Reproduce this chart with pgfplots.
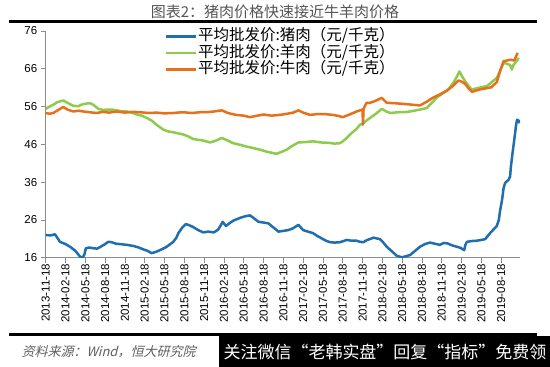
\documentclass[border=0pt]{standalone}
\usepackage{pgfplots}
\pgfplotsset{compat=1.18}
\usepackage{fontspec}
\setmainfont{Liberation Sans}
\newfontfamily\cjk{Noto Sans CJK SC}
\newfontfamily\cjkit[FakeSlant=0.25]{Noto Sans CJK SC}
\definecolor{pork}{HTML}{1F6EB0}
\definecolor{mutton}{HTML}{8DCB4C}
\definecolor{beef}{HTML}{E8701A}
\definecolor{titlegray}{HTML}{555555}
\definecolor{srcgray}{HTML}{606060}
\definecolor{axgray}{HTML}{8C8C8C}
\begin{document}
\begin{tikzpicture}[x=1pt,y=1pt]
\useasboundingbox (0,0) rectangle (550,367);
\fill[white] (0,0) rectangle (550,367);
\node[font=\cjk\fontsize{15}{15}\selectfont, text=titlegray] at (275,355) {图表2：猪肉价格快速接近牛羊肉价格};
\draw[line width=3pt] (9,345) -- (537,345);
\draw[line width=3pt] (9,32) -- (537,32);
\node[anchor=west, font=\cjkit\fontsize{13}{13}\selectfont, text=srcgray] at (18,15) {资料来源：Wind，恒大研究院};
\fill[black] (219,0) rectangle (550,30.5);
\node[white, font=\cjk\fontsize{17}{17}\selectfont] at (385,15) {关注微信“老韩实盘”回复“指标”免费领};
\begin{axis}[
  at={(45.7pt,109.3pt)}, anchor=south west,
  scale only axis, width=474.3pt, height=226.7pt,
  xmin=0, xmax=23.95, ymin=16, ymax=76,
  axis x line*=bottom, axis y line*=left,
  axis line style={axgray, line width=0.8pt},
  tick style={axgray, line width=0.8pt},
  tick align=outside, major tick length=5pt,
  ytick={16,26,36,46,56,66,76},
  xtick={0,1,...,23},
  xticklabels={2013-11-18,2014-02-18,2014-05-18,2014-08-18,2014-11-18,2015-02-18,2015-05-18,2015-08-18,2015-11-18,2016-02-18,2016-05-18,2016-08-18,2016-11-18,2017-02-18,2017-05-18,2017-08-18,2017-11-18,2018-02-18,2018-05-18,2018-08-18,2018-11-18,2019-02-18,2019-05-18,2019-08-18},
  x tick label style={rotate=90, anchor=east, font=\fontsize{11.5}{12}\selectfont, inner sep=1pt},
  y tick label style={font=\fontsize{11.5}{12}\selectfont},
  /pgf/number format/assume math mode=true,
  legend style={at={(0.2515,1.012)}, anchor=north west, draw=none, fill=none,
    font=\cjk\fontsize{15.5}{15.5}\selectfont, inner sep=0pt, row sep=0pt,
    nodes={inner sep=0.5pt, text height=12pt, text depth=3.5pt}},
  legend cell align=left,
  legend image code/.code={\draw[#1, line width=2.5pt] (0pt,0pt) -- (30pt,0pt);},
  every axis plot/.append style={line width=2.5pt, line join=round},
]
\addplot[pork] coordinates {
(0,22.0)(0.25,21.9)(0.47,22.2)(0.72,20.2)(1.0,19.6)(1.23,18.9)(1.5,17.8)(1.73,16.3)(1.87,16.0)(1.95,16.8)
(2.03,18.5)(2.2,18.7)(2.4,18.5)(2.6,18.4)(2.74,18.8)(3.0,19.6)(3.16,20.2)(3.33,20.1)(3.55,19.7)(3.75,19.6)
(4.1,19.4)(4.43,19.1)(4.7,18.7)(4.93,18.2)(5.15,17.8)(5.35,17.2)(5.6,17.6)(5.85,18.2)(6.11,18.9)(6.44,20.2)
(6.6,21.3)(6.7,22.5)(6.9,24.0)(7.07,24.9)(7.25,24.6)(7.45,24.1)(7.7,23.3)(7.96,22.7)(8.2,22.9)(8.5,22.7)
(8.72,23.5)(8.94,25.5)(9.1,24.4)(9.3,25.2)(9.47,25.8)(9.7,26.3)(9.9,26.7)(10.1,27.0)(10.32,27.2)(10.5,26.5)
(10.74,25.5)(11.0,25.3)(11.24,25.1)(11.5,24.0)(11.75,22.9)(12.0,23.1)(12.25,23.3)(12.5,23.8)(12.76,24.7)(13.0,23.3)
(13.25,22.9)(13.5,22.5)(13.7,21.8)(13.94,21.1)(14.15,20.5)(14.36,20.1)(14.6,20.0)(14.86,20.1)(15.2,20.7)(15.45,20.5)
(15.7,20.5)(15.87,20.2)(16.04,20.1)(16.2,20.6)(16.55,21.3)(16.88,20.9)(17.05,20.0)(17.22,18.9)(17.5,17.6)(17.73,16.5)
(17.98,16.1)(18.2,16.4)(18.4,16.7)(18.65,17.8)(18.9,18.9)(19.15,19.6)(19.4,20.0)(19.65,19.7)(19.9,19.4)(20.1,19.9)
(20.28,19.8)(20.5,19.3)(20.76,18.9)(20.95,18.6)(21.13,18.0)(21.2,19.5)(21.27,20.2)(21.5,20.4)(21.77,20.5)(22.0,20.7)
(22.19,20.9)(22.3,21.6)(22.44,22.5)(22.6,23.4)(22.78,24.4)(22.88,26.0)(22.95,28.6)(23.05,31.5)(23.12,34.4)(23.2,35.8)
(23.37,36.6)(23.45,37.5)(23.49,40.1)(23.58,44.0)(23.66,47.2)(23.75,51.0)(23.8,52.5)(23.88,52.3)(23.92,51.6)
};
\addlegendentry{平均批发价:猪肉（元/千克）}
\addplot[mutton] coordinates {
(0,55.3)(0.05,55.6)(0.2,56.0)(0.38,56.5)(0.6,57.2)(0.89,57.6)(1.1,57.0)(1.39,56.2)(1.65,56.1)(1.85,56.6)
(2.07,56.8)(2.25,56.9)(2.4,56.5)(2.66,55.4)(2.9,55.1)(3.08,55.2)(3.35,55.2)(3.59,55.0)(3.85,54.7)(4.09,54.7)
(4.35,54.4)(4.6,53.9)(4.85,53.6)(5.1,53.0)(5.35,52.3)(5.6,51.2)(5.8,50.4)(5.94,49.9)(6.2,49.4)(6.44,49.2)
(6.7,48.9)(6.95,48.6)(7.2,48.1)(7.45,47.4)(7.7,47.2)(7.96,47.0)(8.3,46.5)(8.6,47.0)(8.89,47.7)(9.2,47.0)
(9.47,46.3)(9.8,45.9)(10.15,45.4)(10.5,45.0)(10.82,44.6)(11.2,44.0)(11.67,43.5)(11.9,44.0)(12.17,44.6)(12.45,45.6)
(12.76,46.5)(13.1,46.6)(13.5,46.8)(13.9,46.5)(14.3,46.4)(14.6,46.2)(14.86,46.3)(15.0,46.8)(15.2,47.7)(15.45,49.0)
(15.7,50.1)(15.87,51.2)(16.04,51.6)(16.2,52.3)(16.38,53.0)(16.7,54.2)(16.97,55.4)(17.2,54.7)(17.39,54.3)(17.8,54.5)
(18.1,54.5)(18.4,54.7)(18.8,55.1)(19.24,55.6)(19.5,57.0)(19.75,58.4)(20.05,59.5)(20.33,60.5)(20.6,62.4)(20.8,64.3)
(20.89,65.3)(21.0,64.2)(21.18,62.7)(21.35,61.5)(21.52,60.5)(21.9,61.0)(22.28,61.4)(22.55,62.6)(22.78,63.6)(22.95,65.5)
(23.12,67.6)(23.3,67.3)(23.45,67.0)(23.54,65.8)(23.62,67.0)(23.71,67.6)(23.8,68.2)(23.88,68.9)
};
\addlegendentry{平均批发价:羊肉（元/千克）}
\addplot[beef] coordinates {
(0,54.3)(0.2,54.1)(0.38,54.3)(0.6,55.0)(0.89,55.9)(1.1,55.2)(1.39,54.7)(1.65,54.9)(1.9,54.7)(2.2,54.5)
(2.57,54.3)(2.9,54.6)(3.2,54.4)(3.59,54.7)(4.0,54.4)(4.4,54.6)(4.76,54.5)(5.2,54.3)(5.6,54.4)(6.0,54.2)
(6.44,54.3)(6.9,54.5)(7.4,54.3)(7.8,54.5)(8.13,54.5)(8.5,54.7)(8.89,55.0)(9.2,54.3)(9.6,53.8)(10.0,53.6)
(10.3,53.2)(10.7,53.6)(11.0,53.9)(11.4,53.6)(11.83,53.8)(12.2,54.1)(12.5,54.4)(12.76,55.0)(13.0,54.4)(13.35,53.8)
(13.7,54.0)(14.1,54.0)(14.5,53.8)(14.8,53.5)(15.0,53.2)(15.3,53.8)(15.7,54.7)(15.87,55.0)(16.0,55.2)(16.02,51.2)
(16.05,55.4)(16.2,57.0)(16.38,57.0)(16.6,57.4)(16.97,58.3)(17.22,57.0)(17.6,56.9)(18.06,56.7)(18.5,56.5)(18.9,56.3)
(19.25,57.3)(19.57,58.4)(19.9,59.2)(20.25,60.2)(20.55,61.4)(20.84,62.9)(21.0,62.6)(21.18,62.0)(21.35,60.8)(21.52,59.9)
(21.9,60.5)(22.2,60.8)(22.5,61.1)(22.78,62.5)(22.95,65.5)(23.12,68.0)(23.3,68.2)(23.46,68.4)(23.66,68.2)(23.75,69.3)
(23.83,70.2)
};
\addlegendentry{平均批发价:牛肉（元/千克）}
\end{axis}
\end{tikzpicture}
\end{document}
